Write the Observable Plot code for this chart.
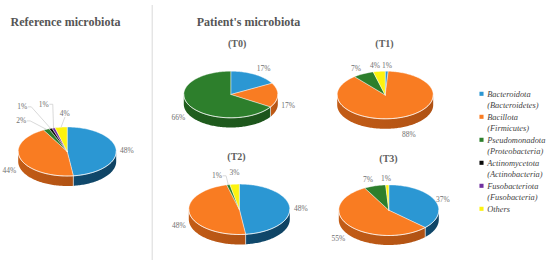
<!DOCTYPE html>
<html>
<head>
<meta charset="utf-8">
<script src="https://cdn.jsdelivr.net/npm/d3@7"></script>
<script src="https://cdn.jsdelivr.net/npm/@observablehq/plot@0.6"></script>
<style>
html,body{margin:0;padding:0;background:#fff;overflow:hidden}
svg{display:block}
</style>
</head>
<body>
<div id="chart"></div>
<script>
// ---- data ----
const categories = ["Bacteroidota", "Bacillota", "Pseudomonadota", "Actinomycetota", "Fusobacteriota", "Others"];
const formerNames = ["(Bacteroidetes)", "(Firmicutes)", "(Proteobacteria)", "(Actinobacteria)", "(Fusobacteria)", ""];
const colors = ["#2b97d3", "#f97c22", "#2d7f2c", "#0a0a0a", "#7030a0", "#fdf30f"];
const wallColors = ["#10496c", "#c05a16", "#1f5c1d", "#000000", "#4a2070", "#b0a80a"];
const panelNames = ["Reference", "(T0)", "(T1)", "(T2)", "(T3)"];
const referenceValues = [48, 44, 2, 1, 1, 4];
const t0Values = [17, 17, 66, 0, 0, 0];
const t1Values = [1, 88, 7, 0, 0, 4];
const t2Values = [48, 48, 1, 0, 0, 3];
const t3Values = [37, 55, 7, 0, 0, 1];

// ---- layout (pie ellipse, panel title, per-label nudges off the slice's mid-angle) ----
const layout = [
  {values: referenceValues, cx: 66.7, cy: 151, rx: 49, ry: 24.5, depth: 10,
   nudge: [[1,1],[-2,10],[-21,-4],[-25,-17],[-7,-19],[5,-9]], leaders: [2,3,4,5]},
  {values: t0Values, cx: 230.3, cy: 94, rx: 47, ry: 23.3, depth: 9.7, title: [236.7, 43.5],
   nudge: [[4,-2],[1,10],[-3,10]], leaders: []},
  {values: t1Values, cx: 384.7, cy: 94.5, rx: 48, ry: 23.8, depth: 10, title: [384, 43.5],
   nudge: [[0,-1],[6,12],[-3,-1],[-3,-1]], leaders: []},
  {values: t2Values, cx: 238.8, cy: 208.8, rx: 50.5, ry: 25.2, depth: 10, title: [236, 156],
   nudge: [[1,1],[-1,11],[-9,-4],[1,-7]], leaders: [2]},
  {values: t3Values, cx: 388.3, cy: 209.7, rx: 50, ry: 25.3, depth: 9.5, title: [388, 158],
   nudge: [[-1,1],[-3,10],[-4,-1],[-1,-1]], leaders: []}
];
const legendX = 481, legendTextX = 486.7, legendTop = 93.3, legendLine = 11.5;
const serif = "'Liberation Serif', 'DejaVu Serif', serif";

// ---- geometry derived from the values ----
const walls = [], tops = [], rims = [], seams = [], labels = [], leaders = [];
const pt = (p, a, dy = 0) => ({x: p.cx + p.rx * Math.sin(a), y: p.cy - p.ry * Math.cos(a) + dy});
const rad = pct => pct / 100 * 2 * Math.PI;
const step = Math.PI / 120;

layout.forEach((p, pi) => {
  let cum = 0, shown = 0;
  p.values.forEach((v, ci) => {
    if (!v) return;
    const a0 = rad(cum), a1 = rad(cum + v);
    cum += v;
    const id = `${pi}-${ci}`, fill = colors[ci];
    const arc = [];
    const n = Math.max(2, Math.ceil((a1 - a0) / step));
    for (let i = 0; i <= n; i++) arc.push(a0 + (a1 - a0) * i / n);
    // wedge on top
    [{x: p.cx, y: p.cy}, ...arc.map(a => pt(p, a)), {x: p.cx, y: p.cy}]
      .forEach(q => tops.push({...q, id, fill}));
    // wall on the visible front half, one outline per slice
    const front = arc.filter(a => a >= Math.PI / 2 && a <= 3 * Math.PI / 2);
    const lo = Math.max(a0, Math.PI / 2), hi = Math.min(a1, 3 * Math.PI / 2);
    if (hi > lo) {
      const span = [lo, ...front.filter(a => a > lo && a < hi), hi];
      const fillRef = `url(#wall${ci})`;
      [...span.map(a => pt(p, a)), ...span.slice().reverse().map(a => pt(p, a, p.depth)), pt(p, lo)]
        .forEach(q => walls.push({...q, id, fill: fillRef}));
      span.forEach(a => rims.push({...pt(p, a), id: `r${pi}`}));
    }
    // seam where a slice boundary meets the front wall
    if (a1 > Math.PI / 2 && a1 < 3 * Math.PI / 2) {
      seams.push({...pt(p, a1), id: `s${id}`}, {...pt(p, a1, p.depth), id: `s${id}`});
    }
    // label
    const mid = (a0 + a1) / 2;
    const [dx, dy] = p.nudge[shown];
    const lx = p.cx + 1.2 * p.rx * Math.sin(mid) + dx;
    const ly = p.cy - 1.2 * p.ry * Math.cos(mid) + dy;
    labels.push({x: lx, y: ly, text: v + "%"});
    if (p.leaders.includes(shown)) {
      const rim = pt(p, mid);
      const side = lx < rim.x - 8 ? 1 : 0;
      const lid = `l${id}`;
      if (side) {
        leaders.push({x: lx + 6, y: ly, id: lid}, {x: lx + 9, y: ly, id: lid}, {...rim, id: lid});
      } else {
        leaders.push({x: lx, y: ly + 4, id: lid}, {...rim, id: lid});
      }
    }
    shown++;
  });
});

// ---- legend rows ----
const legendDots = [], legendText = [];
let row = 0;
categories.forEach((c, i) => {
  const y = legendTop + row * legendLine;
  legendDots.push({x: legendX, y, fill: colors[i]});
  legendText.push({x: legendTextX, y, text: c});
  row++;
  if (formerNames[i]) {
    legendText.push({x: legendTextX, y: legendTop + row * legendLine, text: formerNames[i]});
    row++;
  }
});

const panelTitles = layout.flatMap((p, i) => p.title ? [{x: p.title[0], y: p.title[1], text: panelNames[i]}] : []);
const headings = [
  {x: 65, y: 21.5, text: "Reference microbiota"},
  {x: 248, y: 21.5, text: "Patient's microbiota"}
];

// wall shading as gradients, one per category colour
const wallGradients = () => {
  const defs = d3.create("svg:defs");
  wallColors.forEach((c, i) => {
    const g = defs.append("linearGradient").attr("id", `wall${i}`);
    g.append("stop").attr("offset", "0%").attr("stop-color", d3.color(c).brighter(0.05).formatHex());
    g.append("stop").attr("offset", "100%").attr("stop-color", d3.color(c).darker(0.25).formatHex());
  });
  return defs.node();
};

const chart = Plot.plot({
  width: 550, height: 264,
  margin: 0,
  style: {background: "#fff", fontFamily: serif},
  x: {domain: [0, 550], range: [0, 550], axis: null},
  y: {domain: [0, 264], range: [0, 264], axis: null},
  color: {type: "identity"},
  marks: [
    wallGradients,
    Plot.ruleX([151.7], {y1: 5, y2: 260, stroke: "#d9d9d9", strokeWidth: 1}),
    Plot.line(walls, {x: "x", y: "y", z: "id", fill: "fill", stroke: "none", curve: "linear"}),
    Plot.line(seams, {x: "x", y: "y", z: "id", stroke: "#dfe3e6", strokeWidth: 0.9, strokeOpacity: 0.8}),
    Plot.line(tops, {x: "x", y: "y", z: "id", fill: "fill", stroke: "#ffffff", strokeWidth: 0.6, strokeOpacity: 0.7, curve: "linear"}),
    Plot.line(rims, {x: "x", y: "y", z: "id", stroke: "#fff", strokeWidth: 0.9, strokeOpacity: 0.7}),
    Plot.line(leaders, {x: "x", y: "y", z: "id", stroke: "#c8c8c8", strokeWidth: 0.7}),
    Plot.text(labels, {x: "x", y: "y", text: "text", fontSize: 7.5, fill: "#707070", textAnchor: "middle"}),
    Plot.text(panelTitles, {x: "x", y: "y", text: "text", fontSize: 10, fontWeight: "bold", fill: "#606060", textAnchor: "middle"}),
    Plot.text(headings, {x: "x", y: "y", text: "text", fontSize: 12, fontWeight: "bold", fill: "#555", textAnchor: "middle", letterSpacing: "0.3px"}),
    Plot.dot(legendDots, {x: "x", y: "y", fill: "fill", symbol: "square", r: 2.3}),
    Plot.text(legendText, {x: "x", y: "y", text: "text", fontSize: 8.4, fontStyle: "italic", fill: "#444", textAnchor: "start"})
  ]
});
document.getElementById("chart").appendChild(chart);
</script>
</body>
</html>
